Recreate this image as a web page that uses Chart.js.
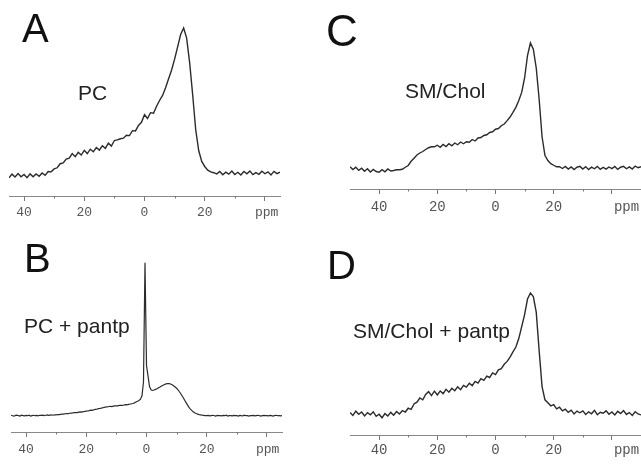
<!DOCTYPE html>
<html>
<head>
<meta charset="utf-8">
<script src="https://cdn.jsdelivr.net/npm/chart.js@4.4.1/dist/chart.umd.min.js"></script>
<style>
  html, body { margin: 0; padding: 0; background: #fff; }
  #wrap { position: relative; width: 641px; height: 465px; overflow: hidden; }
  canvas { position: absolute; }
</style>
</head>
<body>
<div id="wrap">
  <canvas id="panelA" width="320" height="230" style="left:0;top:0"></canvas>
  <canvas id="panelB" width="320" height="235" style="left:0;top:230px"></canvas>
  <canvas id="panelC" width="321" height="230" style="left:320px;top:0"></canvas>
  <canvas id="panelD" width="321" height="235" style="left:320px;top:230px"></canvas>
</div>
<script>
// 31P NMR spectra, intensity normalised so baseline = 0 and main peak = 100
// x axis is chemical shift in ppm, drawn high -> low

const tickValues = [40, 30, 20, 10, 0, -10, -20, -30, -40];
const majorTicks = [40, 20, 0, -20, -40];
const tickLabels = { '40': '40', '20': '20', '0': '0', '-20': '20' };

// A: PC, sampled every 1 ppm from 45 down to -45
const ppmStartA = 45, ppmStepA = 1;
const intensityA = [
  -3.4, -0.8, -2.8, -0.4, -2.6, -1.0, -3.2, -0.6, -2.6, -0.6,
  -2.2, 0.0, -1.6, 1.0, 0.8,
  2.8, 3.6, 6.4, 7.0, 9.6,
  10.2, 13.4, 11.2, 14.2, 12.4,
  15.6, 13.4, 16.4, 14.6, 17.6,
  15.8, 18.8, 17.0, 20.6, 18.6,
  22.4, 22.8, 23.6, 24.0, 26.0,
  25.8, 29.2, 29.0, 32.8, 35.0,
  40.2, 37.6, 41.6, 41.2, 46.0,
  50.0, 53.5, 58.8, 65.0, 71.0,
  78.5, 87.0, 95.5, 100, 93.0,
  76.0, 54.0, 30.0, 15.5, 8.0,
  4.5, 2.0, 0.8, 0.2, -0.6,
  1.0, -1.2, 0.6, -0.8, 1.4, -1.0, 0.5, -1.4, 1.0, -0.6,
  1.4, -1.1, 0.3, -0.9, 1.2, -0.5, 0.8, -1.3, 1.1, -0.4, 0.6
];

// B: PC + pantp, sampled every 0.5 ppm from 45 down to -45
const ppmStartB = 45, ppmStepB = 0.5;
const intensityB = [
  0.3, 0.0, -0.3, 0.2, 0.4, 0.0, -0.2, 0.3, 0.1, -0.1,
  0.2, 0.0, 0.3, -0.2, 0.1, 0.3, 0.0, 0.2, -0.1, 0.3,
  0.2, 0.4, 0.1, 0.3, 0.5, 0.2, 0.4, 0.6, 0.3, 0.5,
  0.6, 0.8, 0.7, 0.9, 1.1, 1.0, 1.3, 1.4, 1.3, 1.6,
  1.7, 1.8, 2.0, 2.1, 2.0, 2.3, 2.5, 2.4, 2.7, 2.8,
  3.0, 3.1, 3.3, 3.6, 3.5, 3.9, 4.1, 4.2, 4.6, 4.7,
  5.0, 5.2, 5.4, 5.8, 5.7, 6.0, 6.1, 6.0, 6.3, 6.4,
  6.5, 6.4, 6.7, 6.8, 6.7, 7.0, 7.2, 7.1, 7.4, 7.5,
  7.8, 8.0, 8.4, 8.9, 9.4, 10.0, 10.8, 13.0, 22.0, 100,
  33.0, 26.0, 19.0, 17.0, 16.5, 16.8, 17.2, 17.6, 18.2, 18.8,
  19.4, 19.9, 20.4, 20.8, 21.0, 21.0, 20.7, 20.2, 19.6, 18.8,
  18.0, 16.8, 15.5, 14.0, 12.4, 10.8, 9.0, 7.4, 5.8, 4.5,
  3.5, 2.6, 1.9, 1.4, 1.0, 0.7, 0.5, 0.3, 0.2, 0.1,
  0.0, 0.2, -0.1, 0.1, 0.3, 0.0, -0.2, 0.2, 0.0, 0.1,
  -0.1, 0.2, 0.0, 0.3, -0.2, 0.1, 0.0, -0.1, 0.2, 0.0,
  0.1, -0.2, 0.2, 0.0, -0.1, 0.3, 0.0, 0.1, -0.2, 0.1,
  0.0, 0.2, -0.1, 0.1, 0.3, 0.0, -0.2, 0.1, 0.2, 0.0,
  0.1, -0.1, 0.2, 0.0, -0.2, 0.1, 0.3, 0.0, 0.1, -0.1, 0.0
];

// C: SM/Chol, sampled every 1 ppm from 50 down to -50
const ppmStartC = 50, ppmStepC = 1;
const intensityC = [
  0.9, -1.2, 0.6, -1.9, -0.2, -2.6, -0.6, -3.2, -1.2, -2.8,
  -3.4, -1.4, -3.0, -0.8, -2.4, -2.0, -1.4, -1.4, -1.0, 0.6,
  2.0, 5.4, 7.8, 10.4, 12.0, 13.2, 14.8, 16.2, 17.0, 17.0,
  18.2, 16.6, 18.8, 17.2, 19.4, 17.8, 20.0, 18.6, 20.8, 19.4,
  21.0, 20.6, 22.8, 21.6, 24.0, 24.4, 26.0, 26.6, 28.4, 29.0,
  31.0, 31.6, 33.8, 35.2, 37.9, 40.8, 44.5, 48.5, 54.0, 60.5,
  72.0, 90.0, 100, 95.0, 80.0, 55.0, 25.0, 10.0, 6.0, 3.5,
  2.2, 1.0, 1.0, -0.4, 1.2, -0.8, 0.9, -1.2, 0.6, 1.3,
  -0.9, 1.0, -1.3, 0.7, -0.6, 1.3, -1.0, 0.5, -0.9, 0.8,
  -0.5, 1.2, -1.1, 0.6, 1.3, -0.6, 0.9, -0.8, 1.5, 0.2, 1.1
];

// D: SM/Chol + pantp, sampled every 1 ppm from 50 down to -50
const ppmStartD = 50, ppmStepD = 1;
const intensityD = [
  0.5, -2.0, 1.5, -1.0, 0.8, -2.4, 0.2, -1.5, 1.0, -2.8,
  -1.0, -4.0, -0.5, -2.5, 0.5, -1.8, 1.2, -0.8, 2.0, 0.8,
  4.0, 3.0, 7.5, 9.0, 12.5, 11.0, 15.5, 17.8, 14.5, 18.2,
  15.0, 18.4, 16.2, 19.8, 17.4, 20.6, 18.6, 21.8, 19.4, 23.0,
  21.6, 24.8, 22.8, 26.4, 25.0, 28.6, 27.2, 30.8, 29.6, 33.4,
  32.0, 36.0, 37.0, 40.6, 43.0, 46.5, 51.0, 55.0, 62.0, 72.0,
  82.0, 95.0, 100, 97.0, 84.0, 52.0, 22.0, 11.0, 8.5, 6.0,
  7.0, 3.5, 4.8, 1.8, 3.2, 0.5, 2.4, -0.8, 1.6, 0.2,
  1.8, -1.2, 1.0, -0.6, 2.2, -1.4, 0.6, -0.2, 1.8, -1.0,
  0.8, -1.6, 1.4, -0.4, 2.0, -1.2, 0.4, -2.0, 1.0, -0.8, -1.6
];

// panel letters, sample names and the "ppm" unit, plus the small minor ticks
const panelText = {
  id: 'panelText',
  afterDraw(chart, args, opts) {
    const ctx = chart.ctx;
    const xs = chart.scales.x;
    const axisY = chart.chartArea.bottom;
    ctx.save();
    // minor ticks
    ctx.strokeStyle = '#777';
    ctx.lineWidth = 1;
    tickValues.filter(v => majorTicks.indexOf(v) < 0).forEach(v => {
      const px = Math.round(xs.getPixelForValue(v)) + 0.5;
      ctx.beginPath();
      ctx.moveTo(px, axisY);
      ctx.lineTo(px, axisY + 2.5);
      ctx.stroke();
    });
    ctx.fillStyle = '#111';
    ctx.textBaseline = 'alphabetic';
    ctx.textAlign = 'left';
    ctx.font = opts.letterSize + 'px "Liberation Sans", Arial, sans-serif';
    ctx.fillText(opts.letter, opts.letterX, opts.letterY);
    ctx.fillStyle = '#222';
    ctx.font = '21px "Liberation Sans", Arial, sans-serif';
    ctx.fillText(opts.label, opts.labelX, opts.labelY);
    ctx.fillStyle = '#555';
    ctx.font = opts.tickSize + 'px "Liberation Mono", "Courier New", monospace';
    ctx.textBaseline = 'middle';
    ctx.fillText('ppm', xs.getPixelForValue(-40) + opts.ppmDx, opts.ppmY);
    ctx.restore();
  }
};

function makePanel(id, start, step, values, cfg) {
  const points = values.map((v, i) => ({ x: start - i * step, y: v }));
  new Chart(document.getElementById(id), {
    type: 'line',
    data: {
      datasets: [{
        data: points,
        borderColor: '#2b2b2b',
        borderWidth: cfg.lineWidth,
        pointRadius: 0,
        tension: 0,
        fill: false
      }]
    },
    options: {
      responsive: false,
      animation: false,
      events: [],
      layout: { padding: { left: cfg.padLeft, right: cfg.padRight, top: 10, bottom: 0 } },
      plugins: {
        legend: { display: false },
        tooltip: { enabled: false },
        panelText: cfg.text
      },
      scales: {
        x: {
          type: 'linear',
          reverse: true,
          min: -cfg.range,
          max: cfg.range,
          afterBuildTicks: s => { s.ticks = tickValues.map(v => ({ value: v })); },
          afterFit: s => { s.height = cfg.axisHeight; },
          ticks: {
            autoSkip: false,
            maxRotation: 0,
            padding: cfg.tickPad,
            color: '#555',
            font: { family: '"Liberation Mono", "Courier New", monospace', size: cfg.text.tickSize },
            callback: v => tickLabels[String(v)] || ''
          },
          grid: {
            drawOnChartArea: false,
            tickLength: 5,
            tickColor: c => (majorTicks.indexOf(c.tick.value) >= 0 ? '#777' : 'rgba(0,0,0,0)')
          },
          border: { color: '#888', width: 1 }
        },
        y: { display: false, min: cfg.yMin, max: cfg.yMax }
      }
    },
    plugins: [panelText]
  });
}

makePanel('panelA', ppmStartA, ppmStepA, intensityA, {
  range: 45, padLeft: 9, padRight: 40, axisHeight: 34, tickPad: 4, lineWidth: 1.4,
  yMin: -15.86, yMax: 112.41,
  text: { letter: 'A', letterSize: 40, letterX: 22, letterY: 42, label: 'PC', labelX: 78, labelY: 100,
          tickSize: 13, ppmDx: -10, ppmY: 213 }
});
makePanel('panelB', ppmStartB, ppmStepB, intensityB, {
  range: 45, padLeft: 11, padRight: 38, axisHeight: 33, tickPad: 5, lineWidth: 1.2,
  yMin: -10.65, yMax: 114.84,
  text: { letter: 'B', letterSize: 40, letterX: 24, letterY: 42, label: 'PC + pantp', labelX: 24, labelY: 103,
          tickSize: 13, ppmDx: -11, ppmY: 220 }
});
makePanel('panelC', ppmStartC, ppmStepC, intensityC, {
  range: 50, padLeft: 30, padRight: 0, axisHeight: 41, tickPad: 5, lineWidth: 1.4,
  yMin: -16.8, yMax: 126.4,
  text: { letter: 'C', letterSize: 44, letterX: 6, letterY: 46, label: 'SM/Chol', labelX: 85, labelY: 98,
          tickSize: 14, ppmDx: 2, ppmY: 207 }
});
makePanel('panelD', ppmStartD, ppmStepD, intensityD, {
  range: 50, padLeft: 30, padRight: 0, axisHeight: 30, tickPad: 2, lineWidth: 1.4,
  yMin: -18.33, yMax: 144.17,
  text: { letter: 'D', letterSize: 40, letterX: 7, letterY: 49, label: 'SM/Chol + pantp', labelX: 33, labelY: 108,
          tickSize: 14, ppmDx: 2, ppmY: 220 }
});
</script>
</body>
</html>
